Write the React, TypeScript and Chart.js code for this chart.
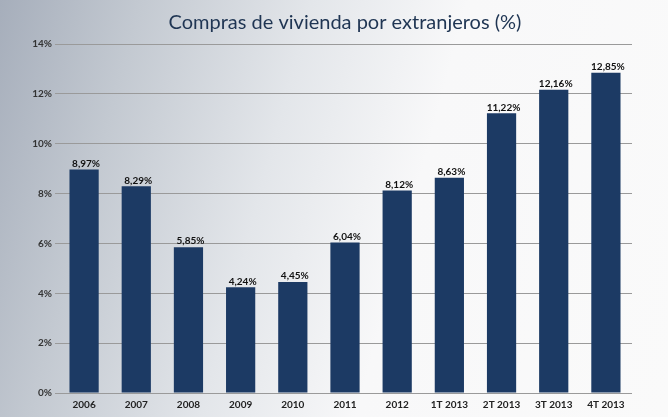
import React, { useEffect, useRef } from "react";
import { Chart, registerables } from "chart.js";

Chart.register(...registerables);

const categories = ["2006", "2007", "2008", "2009", "2010", "2011", "2012", "1T 2013", "2T 2013", "3T 2013", "4T 2013"];
const values = [8.97, 8.29, 5.85, 4.24, 4.45, 6.04, 8.12, 8.63, 11.22, 12.16, 12.85];
const valueLabels = ["8,97%", "8,29%", "5,85%", "4,24%", "4,45%", "6,04%", "8,12%", "8,63%", "11,22%", "12,16%", "12,85%"];
const titleText = "Compras de vivienda por extranjeros (%)";

const FONT = "Lato, 'Open Sans', sans-serif";

const labelPlugin = {
  id: "valueLabels",
  afterDatasetsDraw(chart: any) {
    const ctx = chart.ctx;
    const meta = chart.getDatasetMeta(0);
    ctx.save();
    ctx.font = `bold 10px ${FONT}`;
    ctx.fillStyle = "#111111";
    ctx.textAlign = "center";
    ctx.textBaseline = "bottom";
    meta.data.forEach((bar: any, i: number) => {
      ctx.fillText(valueLabels[i], bar.x + 2, bar.y - 1);
    });
    ctx.restore();
  },
};

const titlePlugin = {
  id: "customTitle",
  afterDraw(chart: any) {
    const ctx = chart.ctx;
    ctx.save();
    ctx.font = `20px ${FONT}`;
    ctx.fillStyle = "#1f3553";
    ctx.textAlign = "center";
    ctx.textBaseline = "middle";
    ctx.fillText(titleText, 345, 23);
    ctx.restore();
  },
};

export default function App() {
  const ref = useRef<HTMLCanvasElement | null>(null);
  useEffect(() => {
    if (!ref.current) return;
    const chart = new Chart(ref.current, {
      type: "bar",
      data: {
        labels: categories,
        datasets: [
          {
            data: values,
            backgroundColor: "#1c3a64",
            borderWidth: 0,
            barPercentage: 0.56,
            categoryPercentage: 1,
          },
        ],
      },
      options: {
        animation: false,
        responsive: false,
        maintainAspectRatio: false,
        layout: { padding: { left: 0, right: 36, top: 44, bottom: 0 } },
        plugins: {
          legend: { display: false },
          tooltip: { enabled: false },
          title: { display: false },
        },
        scales: {
          x: {
            afterFit: (s: any) => {
              s.height = 24;
            },
            grid: { display: false, drawTicks: false },
            border: { display: false },
            ticks: {
              color: "#222222",
              font: { family: FONT, size: 10, weight: "bold" },
              padding: 6,
              maxRotation: 0,
              autoSkip: false,
            },
          },
          y: {
            min: 0,
            max: 14,
            afterFit: (s: any) => {
              s.width = 58;
            },
            grid: { color: "#9a9a9a", lineWidth: 1, drawTicks: true, tickLength: 3 },
            border: { display: false },
            ticks: {
              stepSize: 2,
              color: "#333333",
              font: { family: FONT, size: 10, weight: "bold" },
              padding: 3,
              callback: (v: any) => `${v}%`,
            },
          },
        },
      },
      plugins: [labelPlugin, titlePlugin],
    });
    return () => chart.destroy();
  }, []);
  return (
    <div
      style={{
        position: "fixed",
        left: 0,
        top: 0,
        width: 668,
        height: 417,
        background:
          "linear-gradient(105deg, #a6aebb 0%, #c3c9d1 18%, #e3e6ea 40%, #f8f8f9 60%, #fafafa 100%)",
      }}
    >
      <canvas ref={ref} width={668} height={417} style={{ display: "block" }} />
    </div>
  );
}
